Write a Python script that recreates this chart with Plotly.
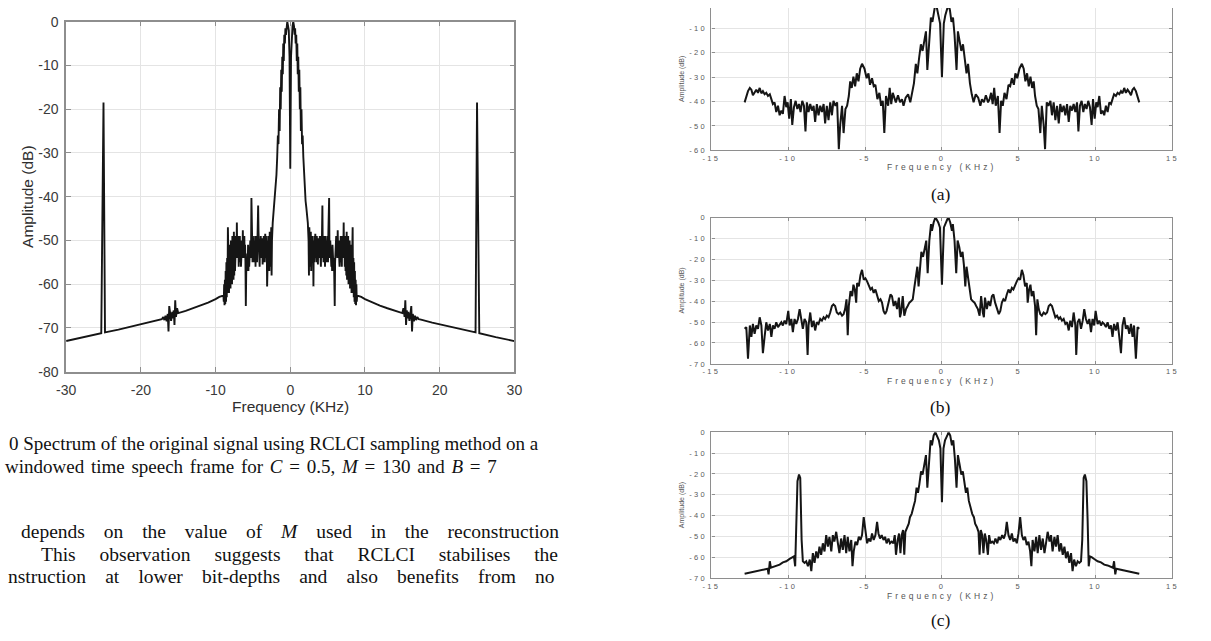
import plotly.graph_objects as go

W, H = 1211, 641

# ---------------------------------------------------------------------------
# Fig. 10 - spectrum of the original signal (RCLCI, C=0.5, M=130, B=7)
# positive-frequency half, frequency in KHz, amplitude in dB
# ---------------------------------------------------------------------------
orig_freq = [
    # main lobe
    0.0, 0.1, 0.2, 0.3, 0.4, 0.5, 0.58, 0.65, 0.72, 0.8,
    0.87, 0.94, 1.0, 1.07, 1.14, 1.21, 1.28, 1.35, 1.42, 1.5,
    1.58, 1.66, 1.75, 1.85, 1.95, 2.05, 2.15, 2.25, 2.35,
    # side-lobe cluster
    2.45, 2.5, 2.55, 2.6, 2.65, 2.7, 2.75, 2.8, 2.85, 2.9,
    2.95, 3.0, 3.05, 3.1, 3.15, 3.2, 3.25, 3.3, 3.35, 3.4,
    3.45, 3.5, 3.55, 3.6, 3.65, 3.7, 3.75, 3.8, 3.85, 3.9,
    3.95, 4.0, 4.05, 4.1, 4.15, 4.2, 4.25, 4.3, 4.35, 4.4,
    4.45, 4.5, 4.55, 4.6, 4.65, 4.7, 4.75, 4.8, 4.85, 4.9,
    4.95, 5.0, 5.05, 5.1, 5.15, 5.2, 5.25, 5.3, 5.35, 5.4,
    5.45, 5.5, 5.55, 5.6, 5.65, 5.7, 5.75, 5.8, 5.85, 5.9,
    5.95, 6.0, 6.05, 6.1, 6.15, 6.2, 6.25, 6.3, 6.35, 6.4,
    6.45, 6.5, 6.55, 6.6, 6.65, 6.7, 6.75, 6.8, 6.85, 6.9,
    6.95, 7.0, 7.05, 7.1, 7.15, 7.2, 7.25, 7.3, 7.35, 7.4,
    7.45, 7.5, 7.55, 7.6, 7.65, 7.7, 7.75, 7.8, 7.85, 7.9,
    7.95, 8.0, 8.05, 8.1, 8.15, 8.2, 8.25, 8.3, 8.35, 8.4,
    8.45, 8.5, 8.55, 8.6, 8.65, 8.7, 8.75, 8.8, 8.85, 8.9,
    8.95,
    # decaying floor, images near 16 KHz and the spur at 25 KHz
    9.5, 10.0, 11.0, 12.0, 13.0, 14.0, 15.0, 15.15, 15.3, 15.4,
    15.5, 15.6, 15.7, 15.8, 15.95, 16.1, 16.2, 16.3, 16.4, 16.55,
    16.7, 16.85, 17.0, 17.2, 17.5, 19.0, 20.0, 21.5, 23.0, 24.8,
    25.0, 25.3, 27.5, 30.0,
]
orig_db = [
    -33.6, -8, -2, -1, 0, -1, -3, -1.5, -5, -3,
    -9, -5, -12, -8, -16, -11, -20, -15, -25, -20,
    -28, -26, -31, -35, -38.5, -41, -42.5, -44, -46,
    -50, -58, -47, -55, -49, -56, -48, -57, -50, -55,
    -49, -54, -51, -60.5, -50, -55, -49, -54, -48.5, -53,
    -50, -55, -49, -54, -50, -55.5, -49.5, -53, -51, -54,
    -49, -53, -50, -56, -49, -54, -48, -42, -53, -50,
    -55, -49, -54, -50, -56, -49, -53, -51, -55, -50,
    -54, -49, -55, -48, -46, -40.3, -52, -54, -50, -55,
    -51, -56, -52, -57, -51, -56, -53, -57, -54, -58,
    -65, -55, -51, -54, -49, -53, -50, -54, -47.7, -53,
    -50, -55, -51, -56, -50, -55, -49, -54, -50, -56,
    -49, -54, -50, -53, -45.9, -54, -49, -56, -50, -57,
    -49, -58, -48, -59, -50, -58, -49, -60, -51, -59,
    -50, -61, -52, -60, -51, -62, -53, -61, -47, -62,
    -54, -63, -55, -64, -57, -64.5, -59, -64.8, -60, -64,
    -62.6,
    -62.9, -63.4, -64.2, -64.9, -65.5, -66.1, -66.6, -65.5, -67.5, -63.7,
    -69.3, -66, -67.8, -66.3, -68.4, -66.5, -65, -70.8, -66.8, -68.5,
    -67.2, -68.2, -67.5, -68.0, -68.1, -68.8, -69.2, -69.8, -70.4, -71.0,
    -18.5, -71.2, -72.1, -73,
]

# ---------------------------------------------------------------------------
# Sub-figures (a), (b), (c) - positive-frequency halves
# ---------------------------------------------------------------------------
a_freq = [
    0.0, 0.12, 0.22, 0.33, 0.43, 0.52, 0.62, 0.72, 0.82, 0.95,
    1.04, 1.15, 1.26, 1.37, 1.48, 1.6, 1.7, 1.82, 1.94, 2.06,
    2.2, 2.36, 2.5, 2.6, 2.73, 2.86, 3.0, 3.1, 3.2, 3.3,
    3.4, 3.5, 3.64, 3.75, 3.85, 3.96, 4.07, 4.2, 4.33, 4.44,
    4.55, 4.68, 4.78, 4.9, 5.04, 5.2, 5.32, 5.43, 5.54, 5.65,
    5.76, 5.87, 5.97, 6.06, 6.17, 6.28, 6.4, 6.5, 6.62, 6.71,
    6.82, 6.93, 7.06, 7.16, 7.27, 7.38, 7.49, 7.6, 7.7, 7.81,
    7.92, 8.03, 8.14, 8.25, 8.35, 8.46, 8.57, 8.68, 8.79, 8.88,
    8.98, 9.09, 9.2, 9.3, 9.41, 9.52, 9.63, 9.74, 9.83, 9.94,
    10.04, 10.13, 10.24, 10.35, 10.45, 10.56, 10.67, 10.78, 10.89, 11.0,
    11.1, 11.2, 11.32, 11.43, 11.54, 11.65, 11.75, 11.86, 11.97, 12.08,
    12.19, 12.3, 12.4, 12.5, 12.62, 12.73, 12.84,
]
a_db = [
    -30.0, -8.0, -4.6, -1.5, 0.0, -2.5, -7.3, -5.5, -12.6, -27.0,
    -11.2, -15.2, -19.2, -16.5, -21.8, -28.4, -24.5, -32.4, -37.0, -40.3,
    -37.0, -38.4, -41.7, -39.0, -40.3, -37.4, -40.3, -39.0, -36.4, -41.0,
    -34.4, -41.7, -37.7, -52.9, -39.7, -41.7, -36.4, -39.0, -33.1, -33.7,
    -30.4, -33.1, -28.4, -30.4, -26.5, -24.5, -26.5, -31.7, -28.4, -33.7,
    -29.8, -34.4, -31.7, -37.7, -41.7, -43.0, -52.9, -41.7, -49.6, -59.5,
    -40.3, -41.7, -39.7, -45.6, -40.3, -47.6, -41.7, -48.9, -41.0, -44.3,
    -41.7, -45.6, -41.0, -48.3, -41.7, -43.7, -41.0, -44.3, -40.3, -52.2,
    -41.7, -39.7, -44.3, -41.0, -43.0, -39.7, -42.3, -49.6, -39.0, -47.0,
    -40.3, -42.3, -37.7, -45.0, -43.7, -45.6, -41.7, -44.3, -40.3, -41.0,
    -39.0, -37.0, -37.7, -36.4, -37.0, -35.7, -36.6, -34.4, -36.4, -35.1,
    -36.1, -37.4, -35.1, -34.4, -35.7, -37.7, -40.3,
]

b_freq = [
    0.0, 0.13, 0.24, 0.35, 0.43, 0.54, 0.65, 0.71, 0.82, 0.93,
    1.02, 1.13, 1.23, 1.34, 1.43, 1.52, 1.6, 1.69, 1.8, 1.9,
    2.0, 2.12, 2.23, 2.34, 2.45, 2.55, 2.66, 2.73, 2.8, 2.92,
    3.03, 3.14, 3.25, 3.35, 3.46, 3.6, 3.7, 3.8, 3.9, 4.0,
    4.11, 4.22, 4.33, 4.44, 4.55, 4.65, 4.76, 4.87, 4.98, 5.09,
    5.2, 5.3, 5.41, 5.52, 5.58, 5.67, 5.76, 5.84, 5.95, 6.06,
    6.13, 6.21, 6.3, 6.4, 6.5, 6.62, 6.73, 6.84, 6.95, 7.06,
    7.16, 7.27, 7.38, 7.49, 7.6, 7.7, 7.81, 7.92, 8.03, 8.14,
    8.25, 8.35, 8.46, 8.57, 8.68, 8.74, 8.83, 8.94, 9.05, 9.16,
    9.26, 9.37, 9.48, 9.59, 9.7, 9.8, 9.91, 10.0, 10.13, 10.24,
    10.35, 10.45, 10.56, 10.67, 10.78, 10.89, 11.0, 11.1, 11.2, 11.32,
    11.43, 11.54, 11.65, 11.75, 11.86, 11.97, 12.08, 12.19, 12.3, 12.4,
    12.5, 12.62, 12.73, 12.84,
]
b_db = [
    -32.1, -4.7, -2.3, -0.8, 0.0, -2.3, -6.3, -3.1, -11.0, -26.6,
    -11.0, -14.1, -18.8, -16.4, -22.7, -32.9, -23.5, -29.0, -33.6, -39.1,
    -39.9, -40.7, -42.3, -43.8, -46.9, -37.6, -45.4, -47.7, -38.3, -43.8,
    -39.9, -42.3, -37.6, -36.8, -40.7, -44.6, -46.2, -44.6, -40.7, -39.1,
    -39.9, -36.8, -34.4, -36.0, -33.6, -34.4, -32.1, -30.5, -29.0, -29.7,
    -25.0, -27.4, -32.9, -31.3, -40.7, -34.4, -32.1, -37.6, -35.2, -42.3,
    -56.3, -39.1, -43.8, -46.2, -46.9, -45.4, -46.2, -45.4, -42.3, -41.5,
    -42.3, -45.4, -47.7, -46.9, -48.5, -47.7, -49.3, -48.5, -50.9, -50.1,
    -54.0, -49.3, -52.4, -45.4, -51.6, -65.7, -50.1, -48.5, -53.2, -49.3,
    -43.8, -48.5, -50.9, -48.5, -54.8, -48.5, -51.6, -44.6, -50.9, -49.3,
    -51.6, -50.1, -50.9, -52.4, -50.1, -53.2, -51.6, -57.1, -50.9, -54.0,
    -50.1, -57.1, -64.9, -51.6, -47.7, -53.2, -51.6, -55.6, -50.9, -57.1,
    -51.6, -67.5, -52.4, -53.2,
]

c_freq = [
    0.0, 0.1, 0.2, 0.35, 0.43, 0.54, 0.65, 0.74, 0.84, 0.95,
    1.04, 1.15, 1.26, 1.36, 1.47, 1.56, 1.65, 1.75, 1.86, 1.97,
    2.08, 2.16, 2.27, 2.38, 2.45, 2.53, 2.62, 2.7, 2.79, 2.88,
    2.99, 3.07, 3.16, 3.27, 3.38, 3.48, 3.6, 3.7, 3.8, 3.92,
    4.03, 4.13, 4.22, 4.33, 4.44, 4.55, 4.65, 4.76, 4.87, 4.98,
    5.09, 5.2, 5.3, 5.41, 5.52, 5.63, 5.74, 5.82, 5.9, 6.02,
    6.13, 6.23, 6.34, 6.45, 6.56, 6.67, 6.77, 6.88, 7.0, 7.1,
    7.2, 7.32, 7.42, 7.53, 7.64, 7.75, 7.86, 7.97, 8.07, 8.18,
    8.29, 8.4, 8.5, 8.6, 8.72, 8.83, 8.94, 9.05, 9.13, 9.22,
    9.3, 9.4, 9.48, 9.55, 9.63, 9.74, 9.91, 10.13, 10.35, 10.56,
    10.78, 11.0, 11.13, 11.2, 11.28, 11.34, 11.54, 11.86, 12.19, 12.5,
    12.84,
]
c_db = [
    -33.6, -7.8, -3.9, -1.6, 0.0, -1.6, -6.3, -3.9, -12.5, -26.6,
    -11.0, -15.6, -20.3, -18.8, -25.0, -29.0, -26.6, -32.9, -36.0, -39.1,
    -40.7, -43.8, -45.4, -47.7, -58.7, -46.9, -49.3, -57.9, -48.5, -51.6,
    -58.7, -49.3, -53.2, -52.4, -53.2, -50.9, -53.2, -50.1, -51.6, -49.3,
    -50.9, -48.5, -43.0, -49.3, -51.6, -48.5, -52.4, -50.9, -53.2, -48.5,
    -40.7, -49.3, -51.6, -50.1, -54.0, -52.4, -57.1, -64.2, -51.6, -57.1,
    -50.1, -57.9, -49.3, -56.3, -50.9, -57.9, -53.2, -47.7, -52.4, -49.3,
    -57.1, -50.1, -54.8, -49.3, -57.1, -53.2, -58.7, -54.8, -60.3, -57.1,
    -62.6, -57.9, -66.5, -61.0, -64.2, -61.8, -62.6, -61.8, -51.6, -21.9,
    -20.3, -23.5, -42.3, -64.2, -59.5, -59.8, -60.7, -61.8, -62.3, -63.4,
    -63.8, -64.5, -64.9, -61.8, -68.1, -65.4, -65.7, -66.2, -66.5, -67.3,
    -67.8,
]

# tick positions and labels
big_xticks = [-30, -20, -10, 0, 10, 20, 30]
big_xlabels = ["-30", "-20", "-10", "0", "10", "20", "30"]
big_yticks = [0, -10, -20, -30, -40, -50, -60, -70, -80]
big_ylabels = ["0", "-10", "-20", "-30", "-40", "-50", "-60", "-70", "-80"]
small_xticks = [-15, -10, -5, 0, 5, 10, 15]
small_xlabels = ["-15", "-10", "-5", "0", "5", "10", "15"]
a_yticks = [-10, -20, -30, -40, -50, -60]
a_ylabels = ["-10", "-20", "-30", "-40", "-50", "-60"]
bc_yticks = [0, -10, -20, -30, -40, -50, -60, -70]
bc_ylabels = ["0", "-10", "-20", "-30", "-40", "-50", "-60", "-70"]

caption_lines = [
    "0 Spectrum of the original signal using RCLCI sampling method on a",
    "windowed time speech frame for <i>C</i> = 0.5, <i>M</i> = 130 and <i>B</i> = 7",
]
body_lines = [
    "depends on the value of <i>M</i> used in the reconstruction",
    "This observation suggests that RCLCI stabilises the",
    "nstruction at lower bit-depths and also benefits from no",
]
sub_labels = ["(a)", "(b)", "(c)"]


def two_sided(freq, db):
    """The magnitude spectrum of a real frame is even: reflect the positive half."""
    f = [-v for v in reversed(freq[1:])] + list(freq)
    d = list(reversed(db[1:])) + list(db)
    return f, d


def px_x(x):
    return x / W


def px_y(y):
    return 1 - y / H


SANS = "Liberation Sans, Arial, sans-serif"
SERIF = "Liberation Serif, Times New Roman, serif"
AXIS_GREY = "#8e8e8e"
GRID = "#e4e4e4"
TICK_TXT = "#3a3a3a"

# sub-figure plot box (pixels)
SUB_LEFT, SUB_RIGHT = 712, 1180
SUB_MID = (SUB_LEFT + SUB_RIGHT) / 2


def spaced(t, ls):
    return '<span style="letter-spacing:%.1fpx">%s</span>' % (ls, t)


fig = go.Figure()

panels = [
    ("x", "y", orig_freq, orig_db, 1.9),
    ("x2", "y2", a_freq, a_db, 2.0),
    ("x3", "y3", b_freq, b_db, 2.0),
    ("x4", "y4", c_freq, c_db, 2.0),
]
for xa, ya, fr, db, lw in panels:
    f, d = two_sided(fr, db)
    fig.add_trace(go.Scatter(x=f, y=d, mode="lines", xaxis=xa, yaxis=ya,
                             line=dict(color="#151515", width=lw),
                             hoverinfo="skip", showlegend=False))

common = dict(showgrid=True, gridcolor=GRID, gridwidth=1, zeroline=False,
              showline=True, linecolor=AXIS_GREY, ticks="inside",
              tickcolor=AXIS_GREY)

layout = dict(
    width=W, height=H, autosize=False, margin=dict(l=0, r=0, t=0, b=0),
    paper_bgcolor="white", plot_bgcolor="white", showlegend=False,
    hovermode=False,
)

# large spectrum
layout["xaxis"] = dict(common, domain=[px_x(57), px_x(512)], anchor="y",
                       range=[-30, 30], tickvals=big_xticks, ticktext=big_xlabels,
                       linewidth=1.6, mirror="ticks", ticklen=5,
                       tickfont=dict(family=SANS, size=14, color=TICK_TXT),
                       ticklabelstandoff=5)
layout["yaxis"] = dict(common, domain=[px_y(373), px_y(14)], anchor="x",
                       range=[-80, 0], tickvals=big_yticks, ticktext=big_ylabels,
                       linewidth=1.6, mirror="ticks", ticklen=5,
                       tickfont=dict(family=SANS, size=14, color=TICK_TXT),
                       ticklabelstandoff=3)

# sub-figures: the top edge of (a) runs above the page
small_rows = [
    ("2", 0, 146, [-60, -1.6], a_yticks, a_ylabels, False),
    ("3", 215, 365, [-70, 0], bc_yticks, bc_ylabels, "ticks"),
    ("4", 435, 585, [-70, 0], bc_yticks, bc_ylabels, "ticks"),
]
small_font = dict(family=SANS, size=7.5, color="#5a5a5a")
for n, top, bot, yr, yt, yl, xmirror in small_rows:
    layout["xaxis" + n] = dict(common, domain=[px_x(SUB_LEFT), px_x(SUB_RIGHT)],
                               anchor="y" + n, range=[-15, 15],
                               tickvals=small_xticks,
                               ticktext=[spaced(t, 2.4) for t in small_xlabels],
                               linewidth=1.3, mirror=xmirror, ticklen=3,
                               tickfont=small_font, ticklabelstandoff=0)
    layout["yaxis" + n] = dict(common, domain=[px_y(bot), px_y(top)],
                               anchor="x" + n, range=yr, tickvals=yt,
                               ticktext=[spaced(t, 2.2) for t in yl],
                               linewidth=1.3, mirror="ticks", ticklen=3,
                               tickfont=small_font, ticklabelstandoff=2)

annotations = []


def ann(text, x, y, size, family, color="#111", angle=0, xanchor="center"):
    annotations.append(dict(text=text, x=px_x(x), y=px_y(y), xref="paper",
                            yref="paper", showarrow=False, xanchor=xanchor,
                            yanchor="middle", textangle=angle,
                            font=dict(family=family, size=size, color=color)))


# axis titles of the large spectrum
ann("Amplitude (dB)", 17, 193, 15.5, SANS, "#2e2e2e", angle=-90)
ann("Frequency (KHz)", 285, 409, 15.5, SANS, "#2e2e2e")

# axis titles and labels of the sub-figures
for (n, top, bot, *_), lab, ty, cy in zip(small_rows, sub_labels,
                                         [163, 383, 603], [191, 409, 628]):
    ann(spaced("Frequency (KHz)", 3.0), SUB_MID, ty, 8.5, SANS, "#555")
    ann("Amplitude (dB)", SUB_LEFT - 30, (max(top, -4) + bot) / 2, 7, SANS,
        "#555", angle=-90)
    ann(lab, SUB_MID - 1, cy, 17.5, SERIF, "#111")

# caption and running text
ann(caption_lines[0], -3, 447, 19, SERIF, xanchor="left")
ann('<span style="word-spacing:2px">%s</span>' % caption_lines[1], -7, 470, 19,
    SERIF, xanchor="left")
body_spacing = [(9, 537, 14), (29, 560, 19), (-4, 583, 14.3)]
for line, (x0, y0, ws) in zip(body_lines, body_spacing):
    ann('<span style="word-spacing:%.1fpx">%s</span>' % (ws, line), x0, y0, 19.5,
        SERIF, xanchor="left")

layout["annotations"] = annotations
fig.update_layout(**layout)

fig.write_html("out.html", config={"displayModeBar": False})
